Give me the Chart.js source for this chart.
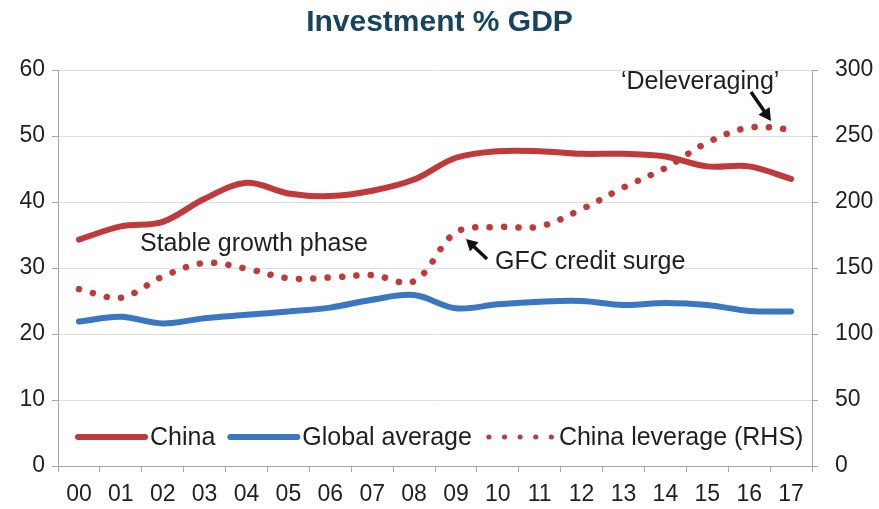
<!DOCTYPE html>
<html lang="en">

<head>
    <meta charset="UTF-8" />
    <title>Investment % GDP</title>
    <script src="https://cdn.jsdelivr.net/npm/chart.js"></script>
    <style>
        html,
        body {
            margin: 0;
            padding: 0;
            background: #ffffff;
        }

        .chart-box {
            width: 879px;
            height: 509px;
        }
    </style>
</head>

<body>
    <div class="chart-box">
        <canvas id="investmentChart"></canvas>
    </div>

    <script>
        // Years (20xx) along the bottom axis
        const years = ["00", "01", "02", "03", "04", "05", "06", "07", "08",
            "09", "10", "11", "12", "13", "14", "15", "16", "17"];

        // Investment as % of GDP (left axis)
        const chinaInvestment = [34.3, 36.3, 37.0, 40.5, 42.9, 41.3, 40.9, 41.7, 43.4,
            46.7, 47.7, 47.7, 47.3, 47.3, 46.9, 45.4, 45.4, 43.5];
        const globalInvestment = [21.9, 22.6, 21.6, 22.4, 22.9, 23.4, 24.0, 25.2, 25.9,
            23.9, 24.5, 24.9, 25.0, 24.4, 24.7, 24.4, 23.5, 23.4];

        // China leverage, right hand scale
        const chinaLeverage = [134, 127.5, 143.5, 153.8, 149.5, 142.2, 142.8, 144.6, 140,
            177, 181, 181.5, 194.5, 211, 225.8, 245, 256.4, 255];

        const leftTicks = [0, 10, 20, 30, 40, 50, 60];
        const rightTicks = [0, 50, 100, 150, 200, 250, 300];

        const RED = "#c0393b";
        const BLUE = "#3b76c0";
        const AXIS_GREY = "#a6a6a6";
        const TEXT = "#1f1f1f";
        const FONT = "'Liberation Sans', Arial, sans-serif";

        // legend is drawn inside the plot, above the x axis
        const innerLegend = {
            id: "innerLegend",
            afterDatasetsDraw(chart) {
                const ctx = chart.ctx;
                const y = 437;
                let x = 78;
                ctx.save();
                ctx.font = "25px " + FONT;
                ctx.textBaseline = "middle";
                ctx.fillStyle = TEXT;
                chart.data.datasets.forEach((ds) => {
                    ctx.strokeStyle = ds.borderColor;
                    ctx.lineCap = "round";
                    if (ds.borderDash) {
                        ctx.lineWidth = 5;
                        ctx.setLineDash([0.1, 15.5]);
                        ctx.beginPath();
                        ctx.moveTo(x + 2, y);
                        ctx.lineTo(x + 66, y);
                        ctx.stroke();
                        ctx.setLineDash([]);
                    } else {
                        ctx.lineWidth = 6;
                        ctx.beginPath();
                        ctx.moveTo(x, y);
                        ctx.lineTo(x + 67, y);
                        ctx.stroke();
                    }
                    ctx.fillText(ds.label, x + 72, y + 1);
                    x += 72 + ctx.measureText(ds.label).width + 15;
                });
                ctx.restore();
            },
        };

        function drawArrow(ctx, x1, y1, x2, y2, head) {
            const ang = Math.atan2(y2 - y1, x2 - x1);
            ctx.beginPath();
            ctx.moveTo(x1, y1);
            ctx.lineTo(x2 - Math.cos(ang) * head * 0.8, y2 - Math.sin(ang) * head * 0.8);
            ctx.stroke();
            ctx.beginPath();
            ctx.moveTo(x2, y2);
            ctx.lineTo(x2 - head * Math.cos(ang - 0.5), y2 - head * Math.sin(ang - 0.5));
            ctx.lineTo(x2 - head * Math.cos(ang + 0.5), y2 - head * Math.sin(ang + 0.5));
            ctx.closePath();
            ctx.fill();
        }

        // text notes and arrows on the plot
        const notes = {
            id: "notes",
            afterDatasetsDraw(chart) {
                const ctx = chart.ctx;
                ctx.save();
                ctx.font = "25px " + FONT;
                ctx.fillStyle = TEXT;
                ctx.textBaseline = "middle";
                ctx.fillText("Stable growth phase", 140, 244);
                ctx.fillText("GFC credit surge", 495, 262);
                ctx.fillText("\u2018Deleveraging\u2019", 621, 82);

                ctx.strokeStyle = "#111111";
                ctx.fillStyle = "#111111";
                ctx.lineWidth = 3.5;
                drawArrow(ctx, 487, 259, 466, 239, 13);
                drawArrow(ctx, 751, 92, 771, 121, 14);
                ctx.restore();
            },
        };

        const ctxInvest = document.getElementById("investmentChart").getContext("2d");
        const investmentChart = new Chart(ctxInvest, {
            type: "line",
            data: {
                labels: years,
                datasets: [
                    {
                        label: "China",
                        data: chinaInvestment,
                        yAxisID: "y",
                        borderColor: RED,
                        borderWidth: 6,
                        borderCapStyle: "round",
                        tension: 0.35,
                        pointRadius: 0,
                        order: 3,
                    },
                    {
                        label: "Global average",
                        data: globalInvestment,
                        yAxisID: "y",
                        borderColor: BLUE,
                        borderWidth: 6,
                        borderCapStyle: "round",
                        tension: 0.35,
                        pointRadius: 0,
                        order: 2,
                    },
                    {
                        label: "China leverage (RHS)",
                        data: chinaLeverage,
                        yAxisID: "y1",
                        borderColor: RED,
                        borderWidth: 6.5,
                        borderCapStyle: "round",
                        borderDash: [0.1, 14.3],
                        tension: 0.35,
                        pointRadius: 0,
                        order: 1,
                    },
                ],
            },
            options: {
                responsive: true,
                maintainAspectRatio: false,
                animation: false,
                layout: {
                    padding: { top: 0, right: 0, bottom: 0, left: 0 },
                },
                plugins: {
                    legend: { display: false },
                    tooltip: { enabled: false },
                    title: {
                        display: true,
                        text: "Investment % GDP",
                        color: "#17455f",
                        font: { family: FONT, size: 30, weight: "bold" },
                        padding: { top: 5, bottom: 29 },
                    },
                },
                scales: {
                    x: {
                        offset: true,
                        grid: {
                            offset: true,
                            drawOnChartArea: false,
                            tickLength: 6,
                            tickColor: AXIS_GREY,
                        },
                        border: { color: AXIS_GREY, width: 1 },
                        ticks: {
                            color: TEXT,
                            font: { family: FONT, size: 23 },
                            padding: 9,
                            maxRotation: 0,
                            autoSkip: false,
                        },
                        afterFit(scale) {
                            scale.height = 43;
                        },
                    },
                    y: {
                        position: "left",
                        min: leftTicks[0],
                        max: leftTicks[leftTicks.length - 1],
                        afterBuildTicks(scale) {
                            scale.ticks = leftTicks.map((v) => ({ value: v }));
                        },
                        grid: {
                            color: "#dedede",
                            tickLength: 6,
                            tickColor: AXIS_GREY,
                        },
                        border: { color: AXIS_GREY, width: 1 },
                        ticks: {
                            color: TEXT,
                            font: { family: FONT, size: 23 },
                            padding: 7,
                        },
                        afterFit(scale) {
                            scale.width = 58;
                        },
                    },
                    y1: {
                        position: "right",
                        min: rightTicks[0],
                        max: rightTicks[rightTicks.length - 1],
                        afterBuildTicks(scale) {
                            scale.ticks = rightTicks.map((v) => ({ value: v }));
                        },
                        grid: {
                            drawOnChartArea: false,
                            tickLength: 6,
                            tickColor: AXIS_GREY,
                        },
                        border: { color: AXIS_GREY, width: 1 },
                        ticks: {
                            color: TEXT,
                            font: { family: FONT, size: 23 },
                            padding: 17,
                        },
                        afterFit(scale) {
                            scale.width = 67;
                        },
                    },
                },
            },
            plugins: [innerLegend, notes],
        });
    </script>
</body>

</html>
